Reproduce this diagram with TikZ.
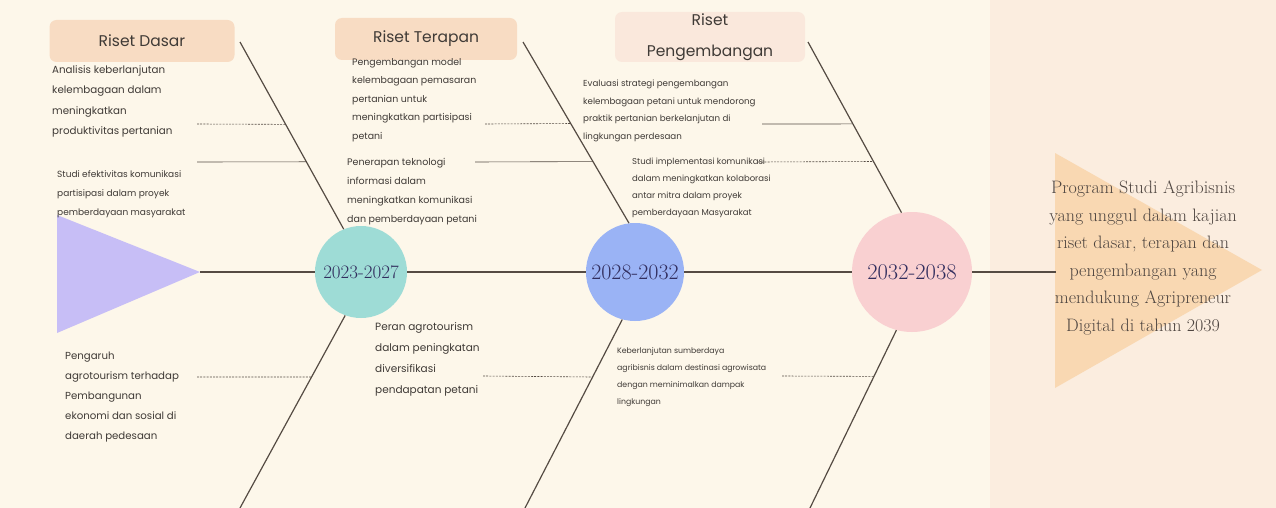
\documentclass[tikz,border=0pt]{standalone}
\usepackage{fontspec}
\setsansfont{Poppins}
\usetikzlibrary{calc, positioning}

\definecolor{paper}{HTML}{FDF7EA}
\definecolor{panel}{HTML}{FBEDDF}
\definecolor{spine}{HTML}{554B43}
\definecolor{ink}{HTML}{3F3A36}
\definecolor{peach}{HTML}{F8DCC3}
\definecolor{blush}{HTML}{FAE8DC}
\definecolor{lilac}{HTML}{C7BEF6}
\definecolor{aqua}{HTML}{9EDCD6}
\definecolor{sky}{HTML}{9AB3F5}
\definecolor{rose}{HTML}{F9D0D1}
\definecolor{apricot}{HTML}{F9D8B2}
\definecolor{goalink}{HTML}{4E4540}

\begin{document}
\begin{tikzpicture}[x=1pt, y=-1pt,
        bone/.style={draw=spine, line width=1.2pt},
        twig/.style={draw=spine, line width=0.6pt},
        dashtwig/.style={twig, dash pattern=on 2pt off 1.2pt},
        cause/.style 2 args={anchor=north west, inner sep=0pt, align=left, text=ink,
            font=\sffamily\fontsize{#1}{#2}\selectfont},
        head/.style={fill=peach, rounded corners=7pt, minimum height=42pt, inner sep=0pt,
            text=ink, font=\sffamily\fontsize{15.5}{17}\selectfont},
        phase/.style={circle, inner sep=0pt, text=ink!80!blue}
    ]
        % background
        \fill[paper] (0,0) rectangle (1276,508);
        \fill[panel] (990,0) rectangle (1276,508);
        \useasboundingbox (0,0) rectangle (1276,508);

        % tail and head of the fish
        \fill[lilac] (57,215) -- (57,333) -- (200,272) -- cycle;
        \coordinate (tail) at (200,272);
        \fill[apricot] (1055,153) -- (1055,388) -- (1262,270) -- cycle;
        \coordinate (goal) at (1056,272);
        \node[align=center, text=goalink, font=\fontsize{18}{27.5}\selectfont]
            (vision) at (1143,258) {Program Studi Agribisnis\\yang unggul dalam kajian\\riset dasar, terapan dan\\pengembangan yang\\mendukung Agripreneur\\Digital di tahun 2039};

        \node[phase, fill=aqua, minimum size=92pt, font=\fontsize{19}{21}\selectfont] (p1) at (361,272) {2023-2027};
        \node[phase, fill=sky, minimum size=98pt, font=\fontsize{22}{24}\selectfont] (p2) at (635,272) {2028-2032};
        \node[phase, fill=rose, minimum size=120pt, font=\fontsize{22.5}{24}\selectfont] (p3) at (912,272) {2032-2038};

        \draw[bone, line width=1.6pt]
            (tail) -- (p1)
            (p1) -- (p2)
            (p2) -- (p3)
            (p3) -- (goal);

        % bones
        \coordinate (t1) at (240,42);
        \coordinate (t2) at (523,42);
        \coordinate (t3) at (808,42);
        \coordinate (b1) at (240,508);
        \coordinate (b2) at (525,508);
        \coordinate (b3) at (810,508);
        \draw[bone]
            (t1) -- (p1.112)
            (t2) -- (p2.97)
            (t3) -- (p3.100)
            (p1.250) -- (b1)
            (p2.255) -- (b2)
            (p3.255) -- (b3);

        % twigs
        \coordinate (d1) at (197,124);
        \coordinate (d2) at (197,162);
        \coordinate (d3) at (485,124);
        \coordinate (d4) at (475,162);
        \coordinate (d5) at (762,124);
        \coordinate (d6) at (758,162);
        \coordinate (d7) at (197,377);
        \coordinate (d8) at (483,376);
        \coordinate (d9) at (782,376);
        \draw[dashtwig] (d1) -- ($(t1)!0.44!(p1.112)$);
        \draw[twig] (d2) -- ($(t1)!0.64!(p1.112)$);
        \draw[dashtwig] (d3) -- ($(t2)!0.45!(p2.97)$);
        \draw[twig] (d4) -- ($(t2)!0.66!(p2.97)$);
        \draw[twig] (d5) -- ($(t3)!0.48!(p3.100)$);
        \draw[dashtwig] (d6) -- ($(t3)!0.70!(p3.100)$);
        \draw[dashtwig] (d7) -- ($(p1.250)!0.32!(b1)$);
        \draw[dashtwig] (d8) -- ($(p2.255)!0.305!(b2)$);
        \draw[dashtwig] (d9) -- ($(p3.255)!0.26!(b3)$);

        % categories
        \node[head, minimum width=185pt] (rdasar) at (142,41) {Riset Dasar};
        \node[head, minimum width=182pt] (rterapan) at (426,39) {Riset Terapan};
        \node[head, fill=blush, minimum width=190pt, minimum height=50pt, align=center,
            font=\sffamily\fontsize{15.5}{31}\selectfont] (rkembang) at (710,37) {Riset\\Pengembangan};

        % causes
        \node[cause={10.3}{20.5}] (c1) at (52,65) {Analisis keberlanjutan\\kelembagaan dalam\\meningkatkan\\produktivitas pertanian};
        \node[cause={9}{19}] (c2) at (57,170) {Studi efektivitas komunikasi\\partisipasi dalam proyek\\pemberdayaan masyarakat};
        \node[cause={9.4}{18.5}] (c3) at (352,58) {Pengembangan model\\kelembagaan pemasaran\\pertanian untuk\\meningkatkan partisipasi\\petani};
        \node[cause={9.5}{19}] (c4) at (347,158) {Penerapan teknologi\\informasi dalam\\meningkatkan komunikasi\\dan pemberdayaan petani};
        \node[cause={8.7}{17.5}] (c5) at (583,80) {Evaluasi strategi pengembangan\\kelembagaan petani untuk mendorong\\praktik pertanian berkelanjutan di\\lingkungan perdesaan};
        \node[cause={8.5}{17}] (c6) at (632,158) {Studi implementasi komunikasi\\dalam meningkatkan kolaborasi\\antar mitra dalam proyek\\pemberdayaan Masyarakat};
        \node[cause={10.2}{20}] (c7) at (65,352) {Pengaruh\\agrotourism terhadap\\Pembangunan\\ekonomi dan sosial di\\daerah pedesaan};
        \node[cause={10.5}{21}] (c8) at (375,322) {Peran agrotourism\\dalam peningkatan\\diversifikasi\\pendapatan petani};
        \node[cause={7.8}{17}] (c9) at (617,347) {Keberlanjutan sumberdaya\\agribisnis dalam destinasi agrowisata\\dengan meminimalkan dampak\\lingkungan};
\end{tikzpicture}
\end{document}
